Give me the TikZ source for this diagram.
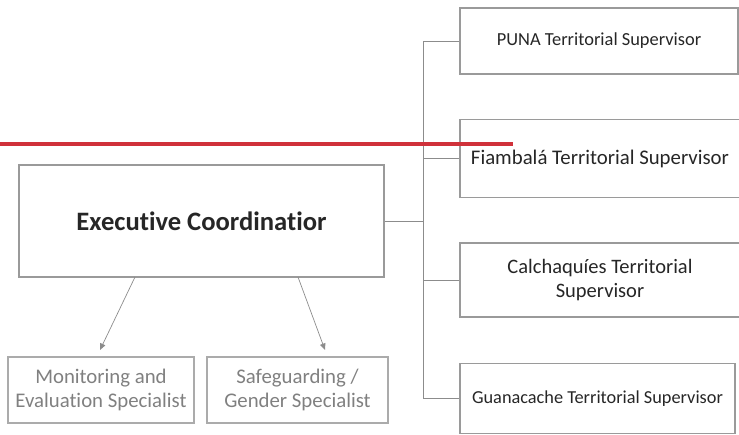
\documentclass[tikz,border=0pt]{standalone}
\usepackage{fontspec}
\setmainfont{Carlito}[Ligatures={NoCommon}]
\usetikzlibrary{arrows.meta,calc}
\definecolor{boxgray}{HTML}{9A9A9A}
\definecolor{linegray}{HTML}{8C8C8C}
\definecolor{lightgray}{HTML}{ABABAB}
\definecolor{txtgray}{HTML}{808080}
\definecolor{accentred}{HTML}{D0313A}
\begin{document}
\begin{tikzpicture}[x=1pt,y=-1pt,
  supbox/.style={draw=boxgray,line width=1.3pt,rectangle,inner sep=0pt,align=center,text=black!85},
  specbox/.style={draw=lightgray,line width=1.3pt,rectangle,inner sep=0pt,align=center,text=txtgray,font=\fontsize{20.8}{23.5}\selectfont},
  conn/.style={draw=linegray,line width=0.9pt},
  arr/.style={draw=linegray,line width=0.7pt,-{Triangle[width=5.5pt,length=6.5pt]}}]
\useasboundingbox (0,0) rectangle (739,434);
\node[supbox,minimum width=365pt,minimum height=112pt,font=\fontsize{26.6}{30}\selectfont\bfseries] (exec) at (201.5,221) {Executive Coordinatior};
\node[supbox,minimum width=278pt,minimum height=66pt,font=\fontsize{18.4}{22}\selectfont] (puna) at (599,41) {PUNA Territorial Supervisor};
\node[supbox,minimum width=280pt,minimum height=78pt,font=\fontsize{20.8}{24}\selectfont] (fiam) at (600,158.5) {Fiambalá Territorial Supervisor};
\node[supbox,minimum width=280pt,minimum height=74pt,font=\fontsize{20.5}{24}\selectfont] (calc) at (600,280) {Calchaquíes Territorial\\Supervisor};
\node[supbox,minimum width=275pt,minimum height=70pt,font=\fontsize{18.3}{22}\selectfont] (guan) at (597.5,398.5) {Guanacache Territorial Supervisor};
\node[specbox,minimum width=186pt,minimum height=66pt] (mon) at (101,390) {Monitoring and\\Evaluation Specialist};
\node[specbox,minimum width=181pt,minimum height=66pt] (safe) at (297.5,390) {Safeguarding /\\Gender Specialist};
\coordinate (hub) at (423,221);
\draw[conn] (exec.east) -- (hub);
\draw[conn] (hub) |- (puna.west);
\draw[conn] (hub) |- (fiam.west);
\draw[conn] (hub) |- (calc.west);
\draw[conn] (hub) |- (guan.west);
\coordinate (a1) at (135,277);
\coordinate (a2) at (298,277);
\coordinate (m1) at (100,350);
\coordinate (s1) at (325,350);
\draw[arr] (a1) -- (m1);
\draw[arr] (a2) -- (s1);
\coordinate (r0) at (0,144);
\coordinate (r1) at (513,144);
\draw[accentred,line width=4pt] (r0) -- (r1);
\end{tikzpicture}
\end{document}
